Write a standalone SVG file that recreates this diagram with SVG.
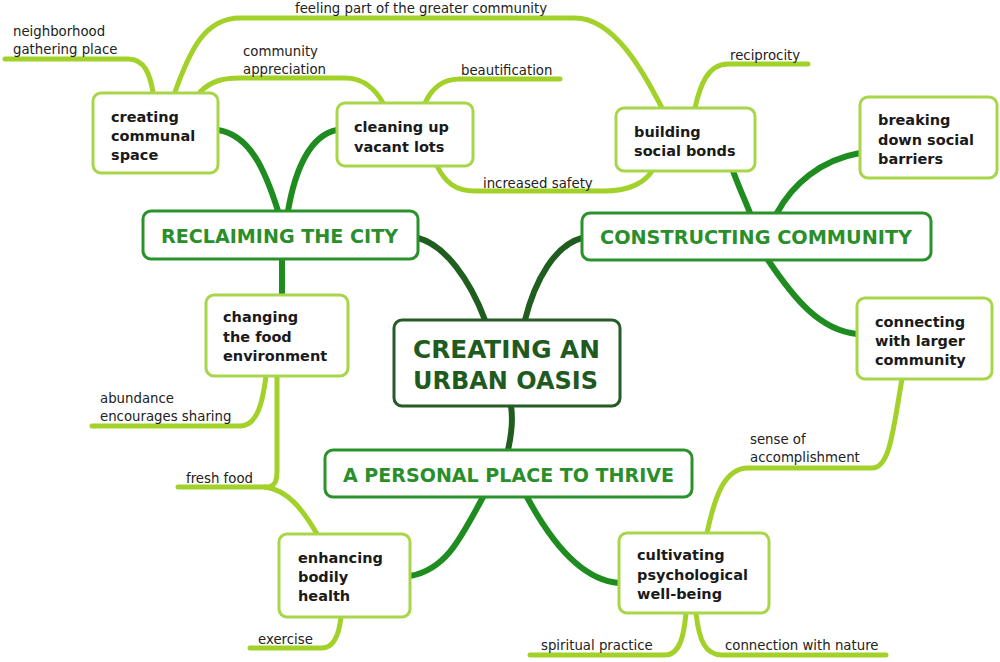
<svg xmlns="http://www.w3.org/2000/svg" width="1000" height="662" viewBox="0 0 1000 662">
<style>
.leaf{fill:none;stroke:#a2d12a;stroke-width:5;stroke-linecap:round;stroke-linejoin:round}
.cat{fill:none;stroke:#1e8c1e;stroke-width:6;stroke-linecap:round}
.root{fill:none;stroke:#1f5e1f;stroke-width:6;stroke-linecap:round}
.sbox{fill:#fff;stroke:#a8d64a;stroke-width:3}
.cbox{fill:#fff;stroke:#2a922a;stroke-width:3}
.rbox{fill:#fff;stroke:#245c24;stroke-width:3}
.st{font-family:"DejaVu Sans",Verdana,sans-serif;font-weight:bold;font-size:14.5px;fill:#1a1a1a}
.lt{font-family:"DejaVu Sans",Verdana,sans-serif;font-size:13.3px;fill:#222}
.ct{font-family:"DejaVu Sans",Verdana,sans-serif;font-weight:bold;font-size:20px;fill:#2a8f2a}
.rt{font-family:"DejaVu Sans",Verdana,sans-serif;font-weight:bold;font-size:25px;fill:#1f5a1f}
</style>
<g id="connectors">
<path class="leaf" d="M5,59 H128 C145,59 150,75 153,92"/>
<path class="leaf" d="M175,92 C190,50 205,18 240,18 H575 C615,18 645,75 662,108"/>
<path class="leaf" d="M200,92 C212,80 225,78 240,78 H345 C365,78 377,92 383,103"/>
<path class="leaf" d="M425,103 C432,88 442,79 460,79 H560"/>
<path class="leaf" d="M437,166 C445,182 455,191 475,191 H605 C630,191 645,182 652,171"/>
<path class="leaf" d="M695,108 C700,85 708,64 728,64 H808"/>
<path class="leaf" d="M92,426 H240 C258,426 263,400 266,376"/>
<path class="leaf" d="M277,376 V470 C277,482 275,487 265,487 H178"/>
<path class="leaf" d="M265,487 C288,490 303,510 317,534"/>
<path class="leaf" d="M250,648 H322 C334,648 339,635 341,617"/>
<path class="leaf" d="M707,533 C715,495 725,468 748,468 H872 C890,468 893,430 902,379"/>
<path class="leaf" d="M530,655 H665 C680,655 684,635 686,613"/>
<path class="leaf" d="M696,613 C699,640 705,655 722,655 H886"/>
<path class="root" d="M418,238 C445,245 470,280 485,320"/>
<path class="root" d="M525,320 C535,280 555,245 582,238"/>
<path class="root" d="M511,406 C514,425 510,440 508,450"/>
<path class="cat" d="M278,211 C265,170 250,135 218,130"/>
<path class="cat" d="M288,211 C295,170 310,135 337,130"/>
<path class="cat" d="M282,259 V295"/>
<path class="cat" d="M733,171 C740,190 745,200 750,213"/>
<path class="cat" d="M777,213 C792,185 820,160 860,153"/>
<path class="cat" d="M768,260 C795,300 820,330 857,334"/>
<path class="cat" d="M483,497 C460,540 445,570 410,576"/>
<path class="cat" d="M527,497 C550,540 580,580 619,583"/>
</g>
<g id="leaf-labels">
<text class="lt" x="13" y="36">neighborhood</text>
<text class="lt" x="13" y="54">gathering place</text>
<text class="lt" x="295" y="13">feeling part of the greater community</text>
<text class="lt" x="243" y="56">community</text>
<text class="lt" x="243" y="74">appreciation</text>
<text class="lt" x="461" y="75">beautification</text>
<text class="lt" x="483" y="188">increased safety</text>
<text class="lt" x="730" y="60">reciprocity</text>
<text class="lt" x="100" y="403">abundance</text>
<text class="lt" x="100" y="421">encourages sharing</text>
<text class="lt" x="186" y="483">fresh food</text>
<text class="lt" x="258" y="644">exercise</text>
<text class="lt" x="750" y="444">sense of</text>
<text class="lt" x="750" y="462">accomplishment</text>
<text class="lt" x="541" y="650">spiritual practice</text>
<text class="lt" x="725" y="650">connection with nature</text>
</g>
<g id="root">
<rect class="rbox" x="394" y="320" width="226" height="86" rx="8"/>
<text class="rt" x="413" y="358" textLength="187" lengthAdjust="spacingAndGlyphs">CREATING AN</text>
<text class="rt" x="413" y="389" textLength="185" lengthAdjust="spacingAndGlyphs">URBAN OASIS</text>
</g>
<g id="reclaiming">
<rect class="cbox" x="143" y="211" width="275" height="48" rx="8"/>
<text class="ct" x="161" y="243" textLength="237" lengthAdjust="spacingAndGlyphs">RECLAIMING THE CITY</text>
</g>
<g id="constructing">
<rect class="cbox" x="582" y="213" width="349" height="47" rx="8"/>
<text class="ct" x="600" y="244" textLength="312" lengthAdjust="spacingAndGlyphs">CONSTRUCTING COMMUNITY</text>
</g>
<g id="personal">
<rect class="cbox" x="325" y="450" width="367" height="47" rx="8"/>
<text class="ct" x="343" y="482" textLength="331" lengthAdjust="spacingAndGlyphs">A PERSONAL PLACE TO THRIVE</text>
</g>
<g id="communal">
<rect class="sbox" x="93" y="93" width="125" height="80" rx="8"/>
<text class="st" x="111" y="122">creating</text>
<text class="st" x="111" y="141">communal</text>
<text class="st" x="111" y="160">space</text>
</g>
<g id="vacant">
<rect class="sbox" x="337" y="103" width="136" height="63" rx="8"/>
<text class="st" x="354" y="132">cleaning up</text>
<text class="st" x="354" y="152">vacant lots</text>
</g>
<g id="bonds">
<rect class="sbox" x="616" y="108" width="139" height="63" rx="8"/>
<text class="st" x="634" y="137">building</text>
<text class="st" x="634" y="156">social bonds</text>
</g>
<g id="barriers">
<rect class="sbox" x="860" y="97" width="137" height="81" rx="8"/>
<text class="st" x="878" y="125">breaking</text>
<text class="st" x="878" y="145">down social</text>
<text class="st" x="878" y="164">barriers</text>
</g>
<g id="larger">
<rect class="sbox" x="857" y="298" width="135" height="81" rx="8"/>
<text class="st" x="875" y="327">connecting</text>
<text class="st" x="875" y="346">with larger</text>
<text class="st" x="875" y="365">community</text>
</g>
<g id="psych">
<rect class="sbox" x="619" y="533" width="150" height="80" rx="8"/>
<text class="st" x="637" y="560">cultivating</text>
<text class="st" x="637" y="580">psychological</text>
<text class="st" x="637" y="599">well-being</text>
</g>
<g id="health">
<rect class="sbox" x="279" y="534" width="131" height="83" rx="8"/>
<text class="st" x="298" y="563">enhancing</text>
<text class="st" x="298" y="582">bodily</text>
<text class="st" x="298" y="601">health</text>
</g>
<g id="food">
<rect class="sbox" x="206" y="295" width="142" height="81" rx="8"/>
<text class="st" x="223" y="322">changing</text>
<text class="st" x="223" y="342">the food</text>
<text class="st" x="223" y="361">environment</text>
</g>
</svg>
